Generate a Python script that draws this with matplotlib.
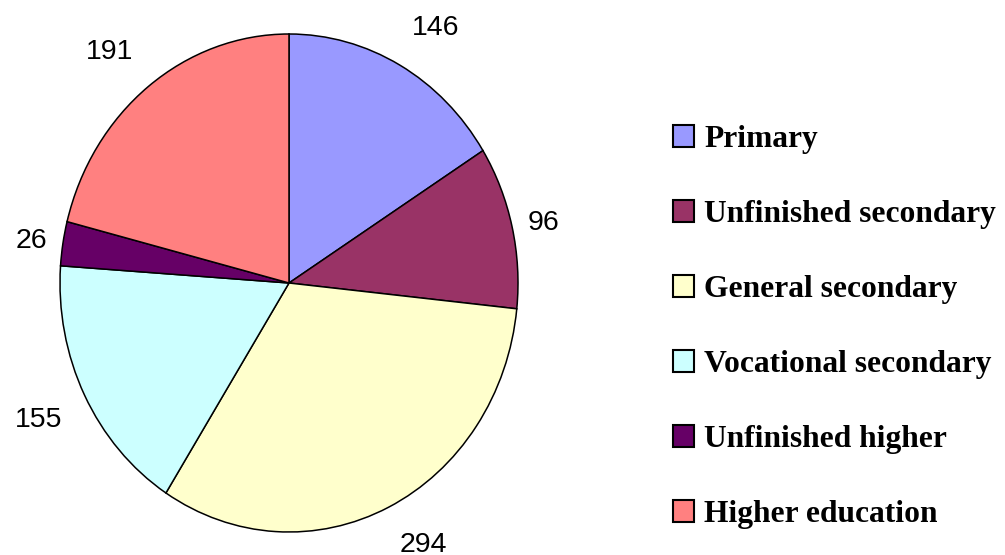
import numpy as np
import matplotlib
matplotlib.use("Agg")
import matplotlib.pyplot as plt
from matplotlib.patches import Patch

# datos
categories = ["Primary", "Unfinished secondary", "General secondary",
              "Vocational secondary", "Unfinished higher", "Higher education"]
values = [146, 96, 294, 155, 26, 191]
colors = ["#9999FF", "#993366", "#FFFFCC", "#CCFFFF", "#660066", "#FF8080"]

fig = plt.figure(figsize=(10.05, 5.55), dpi=100)
ax = fig.add_axes([60 / 1005, 23 / 555, 458 / 1005, 498 / 555])

wedges, _ = ax.pie(values, colors=colors, startangle=90, counterclock=False,
                   radius=1, wedgeprops=dict(edgecolor="black", linewidth=1.1))
ax.set_aspect("auto")
ax.set_xlim(-1, 1)
ax.set_ylim(-1, 1)

# etiquetas: la esquina mas cercana al centro queda sobre el radio medio
for w, v in zip(wedges, values):
    ang = np.deg2rad((w.theta1 + w.theta2) / 2)
    c, s = np.cos(ang), np.sin(ang)
    if abs(s) < 0.3:
        va, r = "center", 1.07
    else:
        va, r = ("bottom" if s > 0 else "top"), 1.11
    ax.text(r * c, r * s, str(v),
            ha="left" if c > 0 else "right", va=va,
            fontsize=20.5, family="Liberation Sans", clip_on=False)

handles = [Patch(facecolor=c, edgecolor="black", linewidth=1.5) for c in colors]
fig.legend(handles, categories, loc="center left",
           bbox_to_anchor=(673 / 1005, 1 - 327 / 555),
           frameon=False, borderpad=0, borderaxespad=0,
           handlelength=0.67, handleheight=0.67, handletextpad=0.32,
           labelspacing=1.46,
           prop=dict(family="Liberation Serif", weight="bold", size=22.7))

fig.savefig("out.png", dpi=100)
